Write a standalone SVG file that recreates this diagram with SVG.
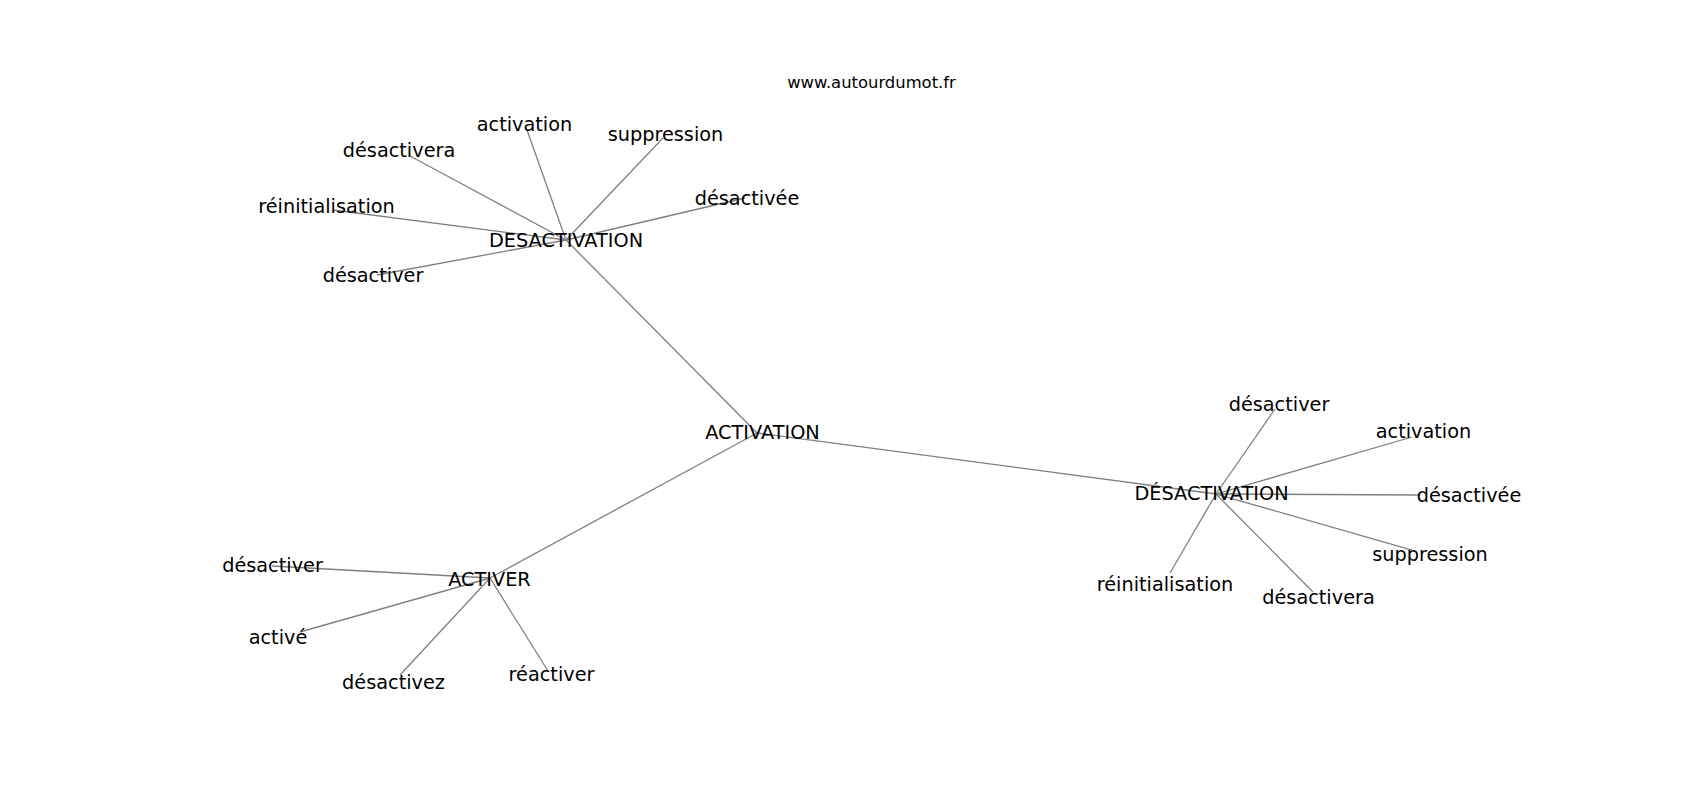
<svg xmlns="http://www.w3.org/2000/svg" width="1700" height="800" viewBox="0 0 1700 800">
<style>
  text { font-family: "DejaVu Sans", "Liberation Sans", sans-serif; fill: #000; }
  .lbl { font-size: 19.3px; text-anchor: middle; }
  .title { font-size: 16.4px; text-anchor: middle; }
  .edges line { stroke: #808080; stroke-width: 1.3; }
</style>
<rect width="1700" height="800" fill="#fff"/>
<text class="title" x="871.5" y="88">www.autourdumot.fr</text>
<g id="connectors" class="edges">
  <line x1="757" y1="433" x2="566" y2="240"/>
  <line x1="757" y1="433" x2="1216" y2="494"/>
  <line x1="757" y1="433" x2="490" y2="578"/>
  <line x1="566" y1="240" x2="527" y2="130"/>
  <line x1="566" y1="240" x2="663" y2="138"/>
  <line x1="566" y1="240" x2="410" y2="156"/>
  <line x1="566" y1="240" x2="333" y2="210"/>
  <line x1="566" y1="240" x2="745" y2="198"/>
  <line x1="566" y1="240" x2="377" y2="275"/>
  <line x1="1216" y1="494" x2="1275" y2="409"/>
  <line x1="1216" y1="494" x2="1412" y2="437"/>
  <line x1="1216" y1="494" x2="1420" y2="495"/>
  <line x1="1216" y1="494" x2="1412" y2="550"/>
  <line x1="1216" y1="494" x2="1313" y2="592"/>
  <line x1="1216" y1="494" x2="1170" y2="573"/>
  <line x1="490" y1="578" x2="272" y2="566"/>
  <line x1="490" y1="578" x2="300" y2="632"/>
  <line x1="490" y1="578" x2="400" y2="675"/>
  <line x1="490" y1="578" x2="548" y2="671"/>
</g>
<g id="n-activation-hub"><text class="lbl" x="762.5" y="439">ACTIVATION</text></g>
<g id="n-desactivation-top"><text class="lbl" x="566" y="247">DESACTIVATION</text></g>
<g id="n-desactivation-right"><text class="lbl" x="1211.5" y="500">DÉSACTIVATION</text></g>
<g id="n-activer"><text class="lbl" x="489.5" y="586">ACTIVER</text></g>
<g id="n-t-activation"><text class="lbl" x="524.5" y="131">activation</text></g>
<g id="n-t-suppression"><text class="lbl" x="665.5" y="141">suppression</text></g>
<g id="n-t-desactivera"><text class="lbl" x="399" y="157">désactivera</text></g>
<g id="n-t-reinitialisation"><text class="lbl" x="326.5" y="213">réinitialisation</text></g>
<g id="n-t-desactivee"><text class="lbl" x="747" y="205">désactivée</text></g>
<g id="n-t-desactiver"><text class="lbl" x="373" y="282">désactiver</text></g>
<g id="n-r-desactiver"><text class="lbl" x="1279" y="411">désactiver</text></g>
<g id="n-r-activation"><text class="lbl" x="1423.5" y="438">activation</text></g>
<g id="n-r-desactivee"><text class="lbl" x="1469" y="502">désactivée</text></g>
<g id="n-r-suppression"><text class="lbl" x="1430" y="561">suppression</text></g>
<g id="n-r-desactivera"><text class="lbl" x="1318.5" y="604">désactivera</text></g>
<g id="n-r-reinitialisation"><text class="lbl" x="1165" y="591">réinitialisation</text></g>
<g id="n-a-desactiver"><text class="lbl" x="272.5" y="572">désactiver</text></g>
<g id="n-a-active"><text class="lbl" x="278" y="644">activé</text></g>
<g id="n-a-desactivez"><text class="lbl" x="393.5" y="689">désactivez</text></g>
<g id="n-a-reactiver"><text class="lbl" x="551.5" y="681">réactiver</text></g>
</svg>
